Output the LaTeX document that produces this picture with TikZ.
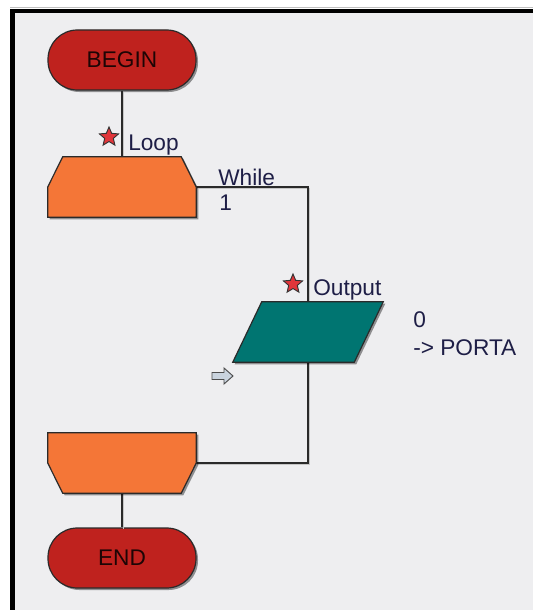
\documentclass[tikz,border=0pt]{standalone}
\usepackage{fontspec}
\setmainfont{Liberation Sans}
\usetikzlibrary{shapes.geometric,shapes.arrows,shadows}
\definecolor{bg}{HTML}{EEEEF0}
\definecolor{termred}{HTML}{BF221E}
\definecolor{looporange}{HTML}{F47637}
\definecolor{outteal}{HTML}{007571}
\definecolor{lbl}{HTML}{1E1E46}
\definecolor{edgec}{HTML}{2A2A2A}
\definecolor{starred}{HTML}{E0353A}
\definecolor{arrfill}{HTML}{C9D3DE}
\begin{document}
\begin{tikzpicture}[x=0.75pt,y=-0.75pt,
  shade/.style={drop shadow={shadow xshift=1.5pt,shadow yshift=-1.5pt,opacity=0.4,fill=black}},
  term/.style={rectangle, rounded corners=22pt, draw=edgec, line width=0.9pt, fill=termred,
    minimum width=111pt, minimum height=45pt, text=black!85!termred,
    font=\fontsize{17}{20}\selectfont, shade},
  box/.style={rectangle, minimum width=111pt, minimum height=45pt, inner sep=0pt},
  shapeline/.style={draw=edgec, line width=0.9pt, shade},
  conn/.style={draw=edgec, line width=1.1pt,
    preaction={draw=gray!45, line width=1pt, transform canvas={xshift=0.9pt,yshift=-0.9pt}}},
  lab/.style={font=\fontsize{17}{20}\selectfont, text=lbl, inner sep=0pt, anchor=base west},
  starmark/.style={star, star points=5, star point ratio=2.2, minimum size=15pt, inner sep=0pt,
    fill=starred, draw=black!80, line width=0.7pt},
  arrowicon/.style={draw=black!70, fill=arrfill, line width=0.7pt, line join=miter},
]
\useasboundingbox (0,0) rectangle (533,610);
\fill[white] (0,0) rectangle (533,610);
\fill[bg] (15,13) rectangle (533,610);
\fill[black] (10,9) rectangle (533,13);
\fill[black] (10,9) rectangle (15,610);
\draw[gray!50, line width=0.75pt] (10,8) -- (533,8);

% nodes
\node[term] (begin) at (122,60) {BEGIN};
\node[box] (loop) at (122,187) {};
\node[box, minimum width=112.5pt] (out) at (308,332) {};
\node[box] (lend) at (122,463) {};
\node[term] (end) at (122,558) {END};

% connectors
\draw[conn] (begin.south) -- (loop.north);
\draw[conn] (loop.east) -| (out.north);
\draw[conn] (out.south) |- (lend.east);
\draw[conn] (lend.south) -- (end.north);

% shapes
\path[shapeline, fill=looporange] ([xshift=11.25pt]loop.north west) -- ([xshift=-11.25pt]loop.north east)
  -- (loop.east) -- (loop.south east) -- (loop.south west) -- (loop.west) -- cycle;
\path[shapeline, fill=outteal] ([xshift=21.75pt]out.north west) -- (out.north east)
  -- ([xshift=-21.75pt]out.south east) -- (out.south west) -- cycle;
\path[shapeline, fill=looporange] (lend.north west) -- (lend.north east) -- (lend.east)
  -- ([xshift=-11.25pt]lend.south east) -- ([xshift=11.25pt]lend.south west) -- (lend.west) -- cycle;

% labels
\node[lab] (whilelbl) at (218,185) {While};
\node[lab] (onelbl) at (219,210) {1};
\node[lab] (looplbl) at (128,150) {Loop};
\node[starmark] (star1) at (109,137) {};
\node[lab] (outlbl) at (313,295) {Output};
\node[starmark] (star2) at (293,284) {};
\node[lab] (val0) at (413,327) {0};
\node[lab] (valport) at (413,355) {-{}> PORTA};

% entry arrow icon
\coordinate (entry) at (222,376);
\path[arrowicon] ([shift={(-10,-3.5)}]entry) -- ([shift={(2,-3.5)}]entry) -- ([shift={(2,-8)}]entry)
  -- ([shift={(11,0)}]entry) -- ([shift={(2,8)}]entry) -- ([shift={(2,3.5)}]entry)
  -- ([shift={(-10,3.5)}]entry) -- cycle;
\end{tikzpicture}
\end{document}
